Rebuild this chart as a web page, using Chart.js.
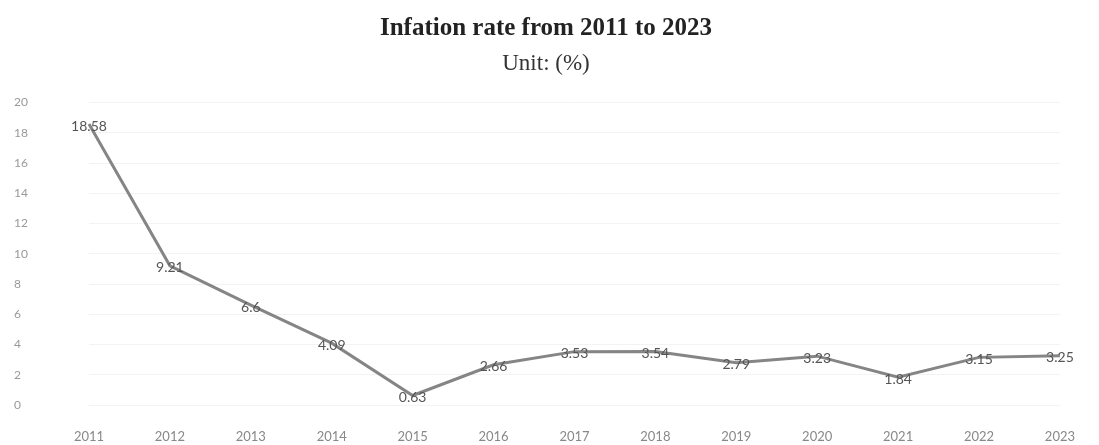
<!DOCTYPE html>
<html>
<head>
<meta charset="utf-8">
<script src="https://cdn.jsdelivr.net/npm/chart.js@4.4.0/dist/chart.umd.min.js"></script>
<style>
  html, body { margin: 0; padding: 0; background: #ffffff; overflow: hidden; }
  #wrap { width: 1099px; height: 445px; position: relative; }
</style>
</head>
<body>
<div id="wrap"><canvas id="c"></canvas></div>
<script>
const years = ["2011","2012","2013","2014","2015","2016","2017","2018","2019","2020","2021","2022","2023"];
const inflation = [18.58, 9.21, 6.6, 4.09, 0.63, 2.66, 3.53, 3.54, 2.79, 3.23, 1.84, 3.15, 3.25];
const valueLabels = ["18.58","9.21","6.6","4.09","0.63","2.66","3.53","3.54","2.79","3.23","1.84","3.15","3.25"];
const yMin = 0, yMax = 20, yStep = 2;

const labelPlugin = {
  id: 'valueLabels',
  afterDatasetsDraw(chart) {
    const ctx = chart.ctx;
    const meta = chart.getDatasetMeta(0);
    ctx.save();
    ctx.font = '14px Lato, "Open Sans", sans-serif';
    ctx.fillStyle = '#555555';
    ctx.textAlign = 'center';
    ctx.textBaseline = 'middle';
    meta.data.forEach((pt, i) => {
      ctx.fillText(valueLabels[i], pt.x, pt.y + 2);
    });
    ctx.restore();
  }
};

new Chart(document.getElementById('c'), {
  type: 'line',
  data: {
    labels: years,
    datasets: [{
      data: inflation,
      borderColor: '#858585',
      borderWidth: 3,
      pointRadius: 0,
      tension: 0,
      fill: false
    }]
  },
  options: {
    responsive: true,
    maintainAspectRatio: false,
    animation: false,
    devicePixelRatio: 1,
    layout: { padding: { left: 14, right: 21, top: 0, bottom: 0 } },
    plugins: {
      legend: { display: false },
      tooltip: { enabled: false },
      title: {
        display: true,
        text: 'Infation rate from 2011 to 2023',
        color: '#222222',
        font: { family: '"Liberation Serif", "Times New Roman", serif', size: 25, weight: 'bold' },
        padding: { top: 14, bottom: 0 }
      },
      subtitle: {
        display: true,
        text: 'Unit: (%)',
        color: '#333333',
        font: { family: '"Liberation Serif", "Times New Roman", serif', size: 23, weight: 'normal' },
        padding: { top: 6, bottom: 25 }
      }
    },
    scales: {
      x: {
        offset: false,
        grid: { display: false, drawTicks: false },
        border: { display: false },
        afterFit(scale) { scale.height = 40; },
        ticks: {
          color: '#888888',
          font: { family: 'Lato, "Open Sans", sans-serif', size: 13 },
          padding: 24,
          maxRotation: 0,
          autoSkip: false
        }
      },
      y: {
        min: yMin,
        max: yMax,
        grid: { color: '#f3f3f3', drawTicks: false },
        border: { display: false },
        afterFit(scale) { scale.width = 75; },
        ticks: {
          stepSize: yStep,
          color: '#999999',
          font: { family: 'Lato, "Open Sans", sans-serif', size: 12 },
          padding: 4,
          crossAlign: 'far'
        }
      }
    }
  },
  plugins: [labelPlugin]
});
</script>
</body>
</html>
